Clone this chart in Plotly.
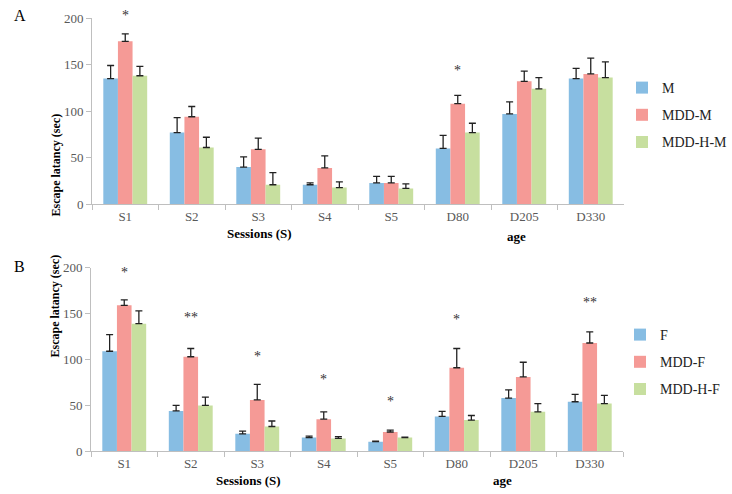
import plotly.graph_objects as go

categories = ["S1", "S2", "S3", "S4", "S5", "D80", "D205", "D330"]

# Panel A (males)
a_names = ["M", "MDD-M", "MDD-H-M"]
a_M = [135, 77, 40, 21, 23, 60, 97, 135]
a_MDD_M = [175, 94, 59, 39, 23, 108, 132, 140]
a_MDD_H_M = [138, 61, 21, 18, 17, 77, 124, 136]
a_M_err = [14, 16, 11, 2, 7, 14, 13, 11]
a_MDD_M_err = [8, 11, 12, 13, 7, 9, 11, 17]
a_MDD_H_M_err = [10, 11, 13, 6, 5, 10, 12, 17]
a_stars = ["*", "", "", "", "", "*", "", ""]
a_star_y = [203, None, None, None, None, 144, None, None]

# Panel B (females)
b_names = ["F", "MDD-F", "MDD-H-F"]
b_F = [109, 44, 19, 15, 10.5, 38, 58, 54]
b_MDD_F = [159, 103, 56, 35, 21, 91, 81, 118]
b_MDD_H_F = [139, 50, 27, 14, 15, 34, 43, 52]
b_F_err = [18, 6, 3, 1.5, 0.5, 5.5, 9, 8]
b_MDD_F_err = [6, 9, 17, 8, 2, 21, 16, 12]
b_MDD_H_F_err = [14, 9, 6, 2, 0.5, 5, 9, 9]
b_stars = ["*", "**", "*", "*", "*", "*", "", "**"]
b_star_y = [195, 146, 103, 78, 54, 144, None, 162]

colors = ["#87BDE3", "#F59A96", "#C7DF9F"]
serif = "Liberation Serif"
YMAX = 200

fig = go.Figure()

def add_panel(vals, errs, names, xa, ya, legend):
    for v, e, n, c in zip(vals, errs, names, colors):
        fig.add_trace(go.Bar(
            x=categories, y=v, name=n, marker=dict(color=c, line=dict(width=0)),
            error_y=dict(type="data", symmetric=False, array=e, arrayminus=[0] * len(e),
                         color="#222222", thickness=1.3, width=3.5),
            xaxis=xa, yaxis=ya, legend=legend, legendgroup=legend + n,
        ))

add_panel([a_M, a_MDD_M, a_MDD_H_M], [a_M_err, a_MDD_M_err, a_MDD_H_M_err], a_names, "x", "y", "legend")
add_panel([b_F, b_MDD_F, b_MDD_H_F], [b_F_err, b_MDD_F_err, b_MDD_H_F_err], b_names, "x2", "y2", "legend2")

axis_x = dict(type="category", showline=True, linecolor="#BFBFBF", linewidth=1, automargin=False,
              ticks="outside", tickson="boundaries", ticklen=5, tickcolor="#BFBFBF",
              tickfont=dict(family=serif, size=13, color="#595959"), showgrid=False, zeroline=False)
axis_y = dict(range=[0, YMAX], tickvals=[0, 50, 100, 150, 200], showline=True, linecolor="#BFBFBF",
              linewidth=1, ticks="outside", ticklen=5, tickcolor="#BFBFBF", automargin=False,
              tickfont=dict(family=serif, size=13, color="#595959"), showgrid=False, zeroline=False)

H = 494
W = 732
a_dom = [1 - 204.3 / H, 1 - 18 / H]
b_dom = [1 - 451.3 / H, 1 - 267.7 / H]

fig.update_layout(
    width=W, height=H, margin=dict(l=0, r=0, t=0, b=0, autoexpand=False),
    paper_bgcolor="white", plot_bgcolor="white",
    font=dict(family=serif, color="#222222"),
    barmode="group", bargap=0.34, bargroupgap=0,
    xaxis=dict(axis_x, domain=[92 / W, 624 / W], anchor="y"),
    yaxis=dict(axis_y, domain=a_dom, anchor="x"),
    xaxis2=dict(axis_x, domain=[91 / W, 623 / W], anchor="y2"),
    yaxis2=dict(axis_y, domain=b_dom, anchor="x2"),
    legend=dict(x=622 / W, y=1 - 72 / H, xanchor="left", yanchor="top", traceorder="grouped",
                tracegroupgap=6, font=dict(family=serif, size=14, color="#222222"),
                itemwidth=30, bgcolor="rgba(0,0,0,0)"),
    legend2=dict(x=620 / W, y=1 - 319 / H, xanchor="left", yanchor="top", traceorder="grouped",
                 tracegroupgap=6, font=dict(family=serif, size=14, color="#222222"),
                 itemwidth=30, bgcolor="rgba(0,0,0,0)"),
    showlegend=True,
)

ann = []
for (cats, stars, sy, xr, yr, dom) in [
    (categories, a_stars, a_star_y, "x", "y", a_dom),
    (categories, b_stars, b_star_y, "x2", "y2", b_dom),
]:
    ppu = (dom[1] - dom[0]) * H / YMAX
    for cat, s, yv in zip(cats, stars, sy):
        if s:
            ann.append(dict(x=cat, y=min(yv, YMAX), yshift=max(0, yv - YMAX) * ppu,
                            xref=xr, yref=yr, text=s, showarrow=False,
                            font=dict(family=serif, size=14, color="#333333"), yanchor="middle"))

ann += [
    dict(x=12 / W, y=1 - 16 / H, xref="paper", yref="paper", text="A", showarrow=False,
         font=dict(family=serif, size=16, color="black"), xanchor="left", yanchor="middle"),
    dict(x=12 / W, y=1 - 266 / H, xref="paper", yref="paper", text="B", showarrow=False,
         font=dict(family=serif, size=16, color="black"), xanchor="left", yanchor="middle"),
    dict(x=46 / W, y=1 - 112 / H, xref="paper", yref="paper", text="<b>Escape latancy (sec)</b>",
         textangle=-90, showarrow=False, font=dict(family=serif, size=12, color="black")),
    dict(x=45 / W, y=1 - 360 / H, xref="paper", yref="paper", text="<b>Escape latancy (sec)</b>",
         textangle=-90, showarrow=False, font=dict(family=serif, size=12, color="black")),
    dict(x=259 / W, y=1 - 234 / H, xref="paper", yref="paper", text="<b>Sessions (S)</b>", showarrow=False,
         font=dict(family=serif, size=13, color="black"), yanchor="middle"),
    dict(x=528 / W, y=1 - 236 / H, xref="paper", yref="paper", text="<b>age</b>", showarrow=False,
         font=dict(family=serif, size=13, color="black"), yanchor="middle"),
    dict(x=248 / W, y=1 - 480 / H, xref="paper", yref="paper", text="<b>Sessions (S)</b>", showarrow=False,
         font=dict(family=serif, size=13, color="black"), yanchor="middle"),
    dict(x=514 / W, y=1 - 480 / H, xref="paper", yref="paper", text="<b>age</b>", showarrow=False,
         font=dict(family=serif, size=13, color="black"), yanchor="middle"),
]
fig.update_layout(annotations=ann)

fig.write_html("out.html", config={"displayModeBar": False},
               post_script="document.body.style.margin='0';")
